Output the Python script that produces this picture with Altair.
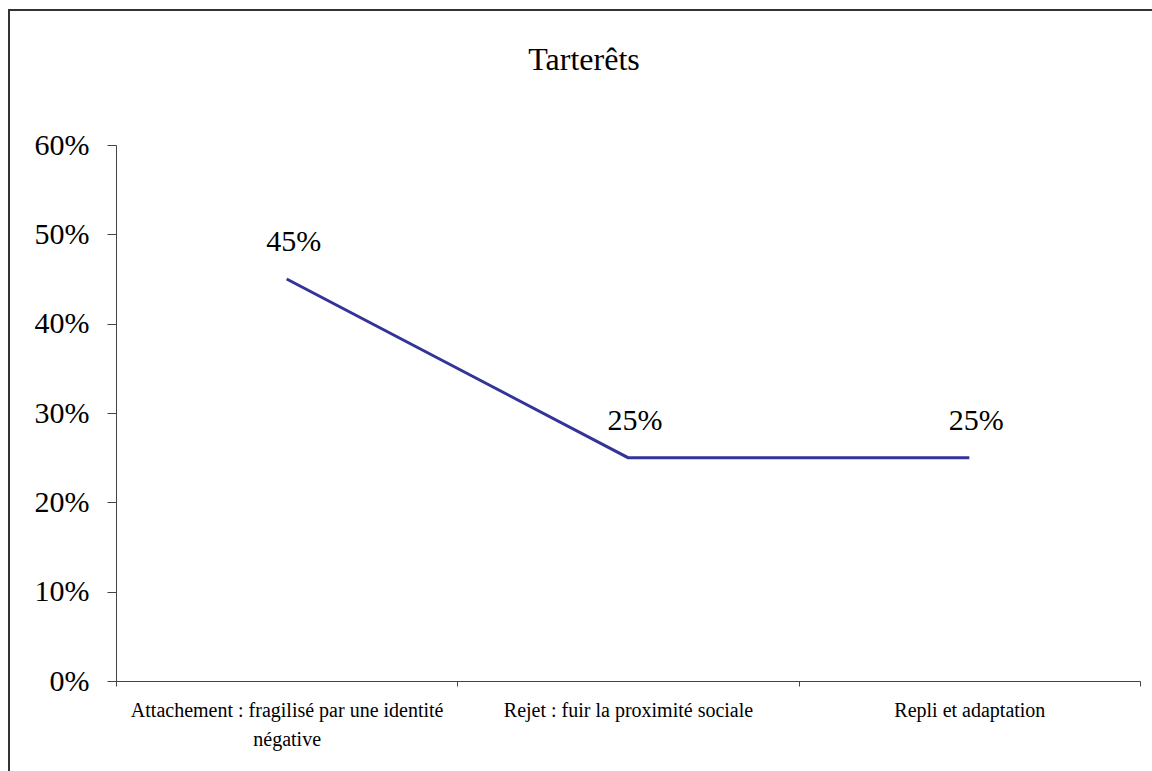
import altair as alt
import pandas as pd

# Categories and their shares
categories = [
    "Attachement : fragilisé par une identité|négative",
    "Rejet : fuir la proximité sociale",
    "Repli et adaptation",
]
shares = [0.45, 0.25, 0.25]
y_ticks = [0, 0.1, 0.2, 0.3, 0.4, 0.5, 0.6]

df = pd.DataFrame({"categorie": categories, "part": shares})

FONT = "Liberation Serif"
AXIS_COLOR = "#444444"

x_enc = alt.X(
    "categorie:N",
    sort=categories,
    scale=alt.Scale(type="band", paddingInner=0, paddingOuter=0),
    axis=alt.Axis(
        title=None,
        labelExpr="split(datum.label, '|')",
        labelAngle=0,
        labelFont=FONT,
        labelFontSize=20,
        labelColor="#000000",
        labelPadding=14,
        labelLineHeight=29,
        labelLimit=0,
        tickBand="extent",
        tickSize=5,
        tickColor=AXIS_COLOR,
        domainColor=AXIS_COLOR,
        grid=False,
    ),
)

y_enc = alt.Y(
    "part:Q",
    scale=alt.Scale(domain=[0, 0.6], nice=False, zero=True),
    axis=alt.Axis(
        title=None,
        values=y_ticks,
        format=".0%",
        labelFont=FONT,
        labelFontSize=30,
        labelColor="#000000",
        labelPadding=18,
        tickSize=9,
        tickColor=AXIS_COLOR,
        domainColor=AXIS_COLOR,
        grid=False,
    ),
)

base = alt.Chart(df)

line = base.mark_line(color="#333399", strokeWidth=3).encode(x=x_enc, y=y_enc)

labels = base.mark_text(
    font=FONT, fontSize=30, color="#000000", baseline="alphabetic", dy=-28, dx=7
).encode(
    x=alt.X("categorie:N", sort=categories),
    y="part:Q",
    text=alt.Text("part:Q", format=".0%"),
)

# outer frame around the whole figure
frame = base.mark_rect(fill="transparent", stroke="#333333", strokeWidth=2).encode(
    x=alt.value(-107), x2=alt.value(1200), y=alt.value(-135), y2=alt.value(800)
)

chart = (
    alt.layer(frame, line, labels)
    .properties(
        width=1024,
        height=536,
        padding={"left": 116, "top": 145, "right": 12, "bottom": 90},
        autosize="none",
        title=alt.TitleParams(
            "Tarterêts",
            font=FONT,
            fontSize=32,
            fontWeight="normal",
            color="#000000",
            anchor="middle",
            dx=-44,
            offset=0,
            dy=68,
        ),
    )
    .configure(background="#ffffff", font=FONT)
    .configure_view(strokeWidth=0, stroke="transparent")
)

chart.save("out.html", embed_options={"renderer": "svg", "actions": False})
